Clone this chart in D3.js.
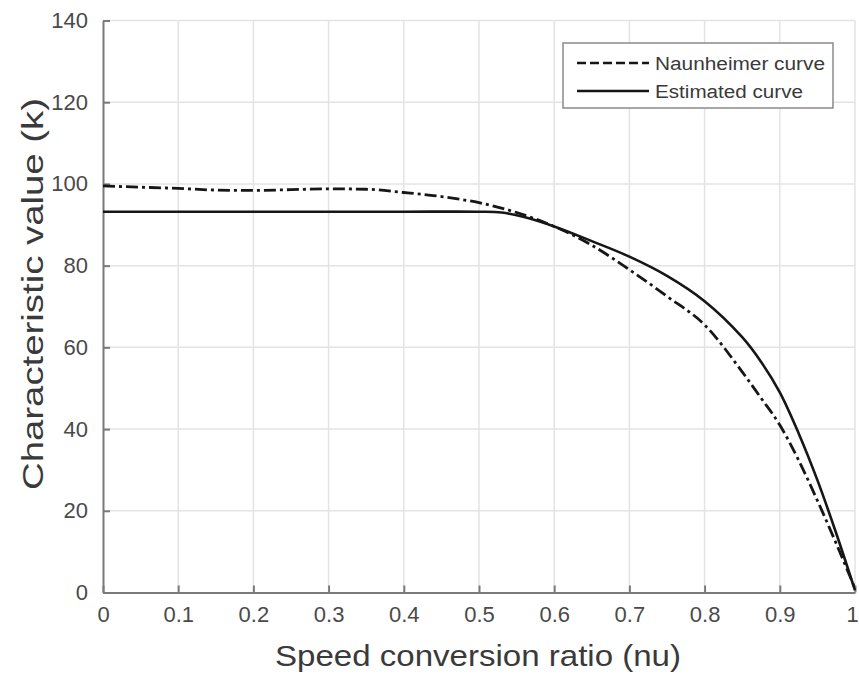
<!DOCTYPE html>
<html>
<head>
<meta charset="utf-8">
<script src="https://cdn.jsdelivr.net/npm/d3@7"></script>
<style>
  html, body { margin: 0; padding: 0; background: #fff; }
  svg { display: block; font-family: "Liberation Sans", Arial, sans-serif; }
</style>
</head>
<body>
<svg id="chart" width="859" height="675"></svg>
<script>
// ---- data ----
const xTicks = [0, 0.1, 0.2, 0.3, 0.4, 0.5, 0.6, 0.7, 0.8, 0.9, 1];
const xTickLabels = ["0", "0.1", "0.2", "0.3", "0.4", "0.5", "0.6", "0.7", "0.8", "0.9", "1"];
const yTicks = [0, 20, 40, 60, 80, 100, 120, 140];
const yTickLabels = ["0", "20", "40", "60", "80", "100", "120", "140"];

const naunX = [0, 0.05, 0.1, 0.15, 0.2, 0.25, 0.3, 0.35, 0.4, 0.45, 0.5, 0.55, 0.6, 0.65, 0.7, 0.75, 0.8, 0.85, 0.875, 0.9, 0.925, 0.95, 0.975, 1.0];
const naunY = [99.5, 99.2, 98.9, 98.5, 98.4, 98.6, 98.8, 98.7, 97.9, 96.9, 95.4, 93.0, 89.6, 85.0, 79.0, 72.5, 65.5, 54.0, 47.6, 41.0, 32.4, 22.5, 12.0, 1.0];

const estX = [0, 0.1, 0.2, 0.3, 0.4, 0.5, 0.53, 0.56, 0.6, 0.65, 0.7, 0.75, 0.8, 0.85, 0.875, 0.9, 0.925, 0.95, 0.975, 1.0];
const estY = [93.2, 93.2, 93.2, 93.2, 93.2, 93.2, 93.0, 91.9, 89.6, 86.0, 82.2, 77.5, 71.3, 62.5, 56.5, 49.0, 39.0, 27.5, 14.5, 0.5];

const seriesNames = ["Naunheimer curve", "Estimated curve"];

// ---- layout ----
const svg = d3.select("#chart");
const x = d3.scaleLinear().domain([0, 1]).range([103, 855]);
const y = d3.scaleLinear().domain([0, 140]).range([592.5, 20.5]);

// grid
const grid = svg.append("g");
grid.selectAll("line.gx").data(xTicks.slice(1)).join("line")
  .attr("x1", d => x(d)).attr("x2", d => x(d))
  .attr("y1", y(0)).attr("y2", y(140))
  .attr("stroke", "#e3e3e3").attr("stroke-width", 1.5);
grid.selectAll("line.gy").data(yTicks.slice(1)).join("line")
  .attr("x1", x(0)).attr("x2", x(1))
  .attr("y1", d => y(d)).attr("y2", d => y(d))
  .attr("stroke", "#e3e3e3").attr("stroke-width", 1.5);

// axes
const xAxis = d3.axisBottom(x).tickValues(xTicks)
  .tickFormat((d, i) => xTickLabels[i]).tickSizeInner(-7).tickSizeOuter(0).tickPadding(14);
const yAxis = d3.axisLeft(y).tickValues(yTicks)
  .tickFormat((d, i) => yTickLabels[i]).tickSizeInner(-7).tickSizeOuter(0).tickPadding(15);

const gx = svg.append("g").attr("transform", `translate(0,${y(0)})`).call(xAxis);
const gy = svg.append("g").attr("transform", `translate(${x(0)},0)`).call(yAxis);
[gx, gy].forEach(g => {
  g.select(".domain").attr("stroke", "#7a7a7a").attr("stroke-width", 2);
  g.selectAll(".tick line").attr("stroke", "#7a7a7a").attr("stroke-width", 2);
  g.selectAll(".tick text").attr("fill", "#4a4a4a").attr("font-size", 22)
    .attr("font-family", "Liberation Sans, Arial, sans-serif");
});
gx.selectAll(".tick text").attr("dy", "0.71em");
gx.selectAll(".tick text").filter(d => d === 1).attr("dx", -3);

// lines
const naunLine = d3.line().x(d => x(d[0])).y(d => y(d[1])).curve(d3.curveMonotoneX);
const estLine = d3.line().x(d => x(d[0])).y(d => y(d[1])).curve(d3.curveCatmullRom.alpha(0.5));
const naunData = naunX.map((v, i) => [v, naunY[i]]);
const estData = estX.map((v, i) => [v, estY[i]]);

svg.append("path").datum(estData).attr("d", estLine)
  .attr("fill", "none").attr("stroke", "#161616").attr("stroke-width", 2.6);
svg.append("path").datum(naunData).attr("d", naunLine)
  .attr("fill", "none").attr("stroke", "#161616").attr("stroke-width", 2.8)
  .attr("stroke-dasharray", "12,4,3,4");

// axis labels
svg.append("text").attr("x", 478).attr("y", 666).attr("text-anchor", "middle")
  .attr("font-size", 29).attr("fill", "#3a3a3a")
  .attr("textLength", 406).attr("lengthAdjust", "spacingAndGlyphs")
  .text("Speed conversion ratio (nu)");
svg.append("text").attr("transform", "translate(43,294) rotate(-90)")
  .attr("text-anchor", "middle")
  .attr("font-size", 30).attr("fill", "#3a3a3a")
  .attr("textLength", 392).attr("lengthAdjust", "spacingAndGlyphs")
  .text("Characteristic value (k)");

// legend
const lg = svg.append("g");
lg.append("rect").attr("x", 563).attr("y", 43).attr("width", 270).attr("height", 65)
  .attr("fill", "#fff").attr("stroke", "#8a8a8a").attr("stroke-width", 1.5);
const rows = [
  { name: seriesNames[0], dash: "9,4", y: 63, len: 170 },
  { name: seriesNames[1], dash: null, y: 91, len: 148 }
];
rows.forEach(r => {
  const l = lg.append("line").attr("x1", 577).attr("x2", 649).attr("y1", r.y).attr("y2", r.y)
    .attr("stroke", "#161616").attr("stroke-width", 2.6);
  if (r.dash) l.attr("stroke-dasharray", r.dash);
  lg.append("text").attr("x", 655).attr("y", r.y + 6.5)
    .attr("font-size", 18).attr("fill", "#3a3a3a")
    .attr("textLength", r.len).attr("lengthAdjust", "spacingAndGlyphs")
    .text(r.name);
});
</script>
</body>
</html>
